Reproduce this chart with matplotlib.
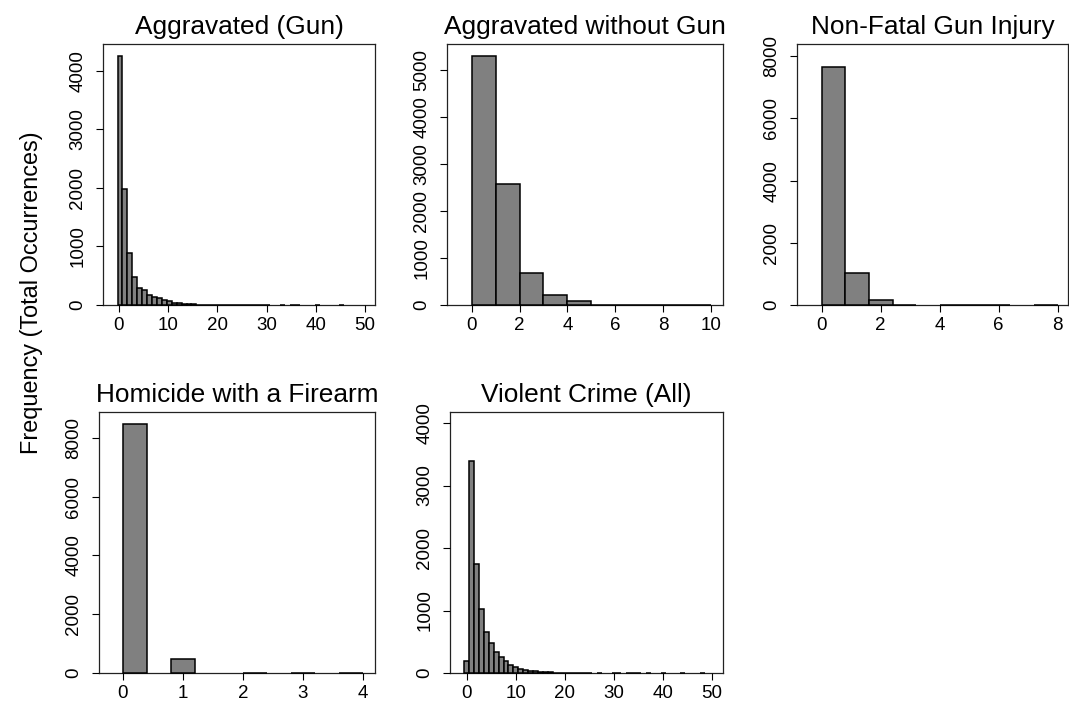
import matplotlib
matplotlib.use("Agg")
import matplotlib.pyplot as plt
import numpy as np

plt.rcParams['font.family'] = ['Liberation Sans', 'DejaVu Sans']

# histogram counts, one value per bin
titles = ["Aggravated (Gun)", "Aggravated without Gun", "Non-Fatal Gun Injury",
          "Homicide with a Firearm", "Violent Crime (All)"]

agg_gun_counts = [4250, 1986, 890, 484, 295, 248, 171, 142, 114, 85,
                  60, 42, 28, 17, 12, 10, 8, 6, 5, 5,
                  4, 4, 3, 3, 3, 3, 3, 2, 2, 2,
                  2, 0, 0, 2, 0, 2, 2, 0, 0, 0,
                  2, 0, 0, 0, 0, 2]
agg_gun_edges = np.arange(len(agg_gun_counts) + 1) - 0.25

agg_nogun_counts = [5290, 2580, 690, 210, 80, 10, 6, 5, 5, 5]
agg_nogun_edges = np.arange(len(agg_nogun_counts) + 1) * 1.0

nonfatal_counts = [7650, 1040, 150, 6, 0, 8, 15, 15, 0, 15]
nonfatal_edges = np.arange(len(nonfatal_counts) + 1) * 0.8

homicide_counts = [8460, 0, 460, 0, 0, 8, 0, 15, 0, 15]
homicide_edges = np.arange(len(homicide_counts) + 1) * 0.4

violent_counts = [186, 3390, 1742, 1030, 660, 475, 330, 250, 195, 135,
                  91, 64, 43, 31, 25, 16, 12, 10, 8, 6,
                  5, 5, 4, 4, 3, 3, 0, 3, 0, 0,
                  3, 3, 0, 3, 3, 3, 0, 3, 0, 0,
                  3, 0, 0, 0, 3, 0, 0, 0, 3, 0]
violent_edges = np.arange(len(violent_counts) + 1) - 0.5

x_ticks = [np.arange(0, 51, 10), np.arange(0, 11, 2), np.arange(0, 9, 2),
           np.arange(0, 5, 1), np.arange(0, 51, 10)]
y_ticks = [np.arange(0, 4001, 1000), np.arange(0, 5001, 1000), np.arange(0, 8001, 2000),
           np.arange(0, 8001, 2000), np.arange(0, 4001, 1000)]

panels = [
    (agg_gun_counts, agg_gun_edges, (-3.2, 52.0), 4455, (103, 44, 375, 305)),
    (agg_nogun_counts, agg_nogun_edges, (-1.03, 10.5), 5553, (447, 44, 723, 305)),
    (nonfatal_counts, nonfatal_edges, (-0.84, 8.35), 8390, (797, 44, 1068, 305)),
    (homicide_counts, homicide_edges, (-0.4, 4.2), 8880, (99, 412, 375, 673)),
    (violent_counts, violent_edges, (-3.4, 52.2), 4176, (450, 412, 723, 673)),
]

W, H = 1069, 701
fig = plt.figure(figsize=(W / 100, H / 100), dpi=100)

for i, (counts, edges, xlim, ytop, box) in enumerate(panels):
    x0, y0, x1, y1 = box
    ax = fig.add_axes([x0 / W, 1 - y1 / H, (x1 - x0) / W, (y1 - y0) / H])
    counts = np.asarray(counts, dtype=float)
    keep = counts > 0  # empty bins draw nothing, like R
    ax.bar(edges[:-1][keep], counts[keep], width=np.diff(edges)[keep], align='edge',
           color='#808080', edgecolor='black', linewidth=1.1, zorder=3, clip_on=False)
    ax.set_xlim(*xlim)
    ax.set_ylim(0, ytop)
    ax.set_xticks(x_ticks[i])
    ax.set_yticks(y_ticks[i])
    ax.set_yticklabels([str(v) for v in y_ticks[i]], rotation=90, va='center')
    ax.tick_params(axis='both', direction='out', length=5, width=0.8,
                   labelsize=13.5, colors='black')
    ax.tick_params(axis='y', pad=7)
    ax.tick_params(axis='x', pad=4)
    for s in ax.spines.values():
        s.set_linewidth(0.9)
        s.set_color('#222222')
        s.set_zorder(1)
    ax.set_title(titles[i], fontsize=18.9, pad=7)

fig.text(0.029, 0.583, "Frequency (Total Occurrences)", rotation=90,
         ha='center', va='center', fontsize=16.9)

plt.savefig("out.png", dpi=100, facecolor='white')
plt.close()
